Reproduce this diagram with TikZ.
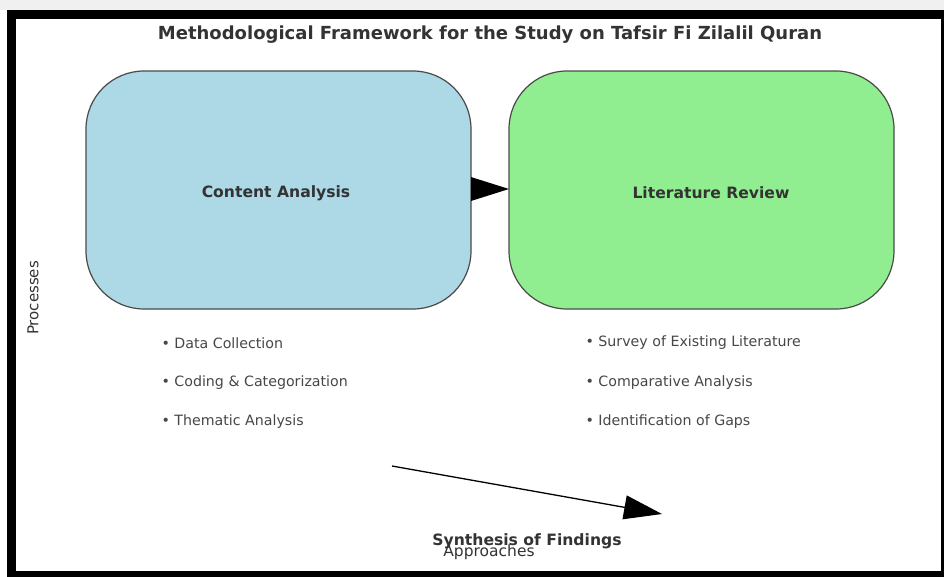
\documentclass[tikz,border=0pt]{standalone}
\usepackage{fontspec}
\setmainfont{DejaVu Sans}
\usetikzlibrary{arrows.meta}
\definecolor{lblue}{HTML}{ADD8E6}
\definecolor{lgreen}{HTML}{90EE90}
\definecolor{txt}{HTML}{333333}
\definecolor{edge}{HTML}{4A4A4A}
\begin{document}
\begin{tikzpicture}[x=1pt,y=-1pt,
  box/.style={draw=edge,line width=1.2pt,rounded corners=58pt},
  boxtitle/.style={font=\bfseries\fontsize{15.6}{18}\selectfont,text=txt},
  bullet/.style={anchor=west,font=\fontsize{14.2}{16}\selectfont,text=txt!90},
  bighead/.style={-{Triangle[length=38pt,width=24pt]}}]
\useasboundingbox (0,0) rectangle (944,576);
\fill[white] (0,0) rectangle (944,576);
\fill[black!6] (0,0) rectangle (944,10);
\draw[line width=8.5pt] (11.25,14.25) rectangle (945.5,575.5);
\node[font=\bfseries\fontsize{18}{21}\selectfont,text=txt] (title) at (490,35) {Methodological Framework for the Study on Tafsir Fi Zilalil Quran};
\filldraw[box,fill=lblue] (86,71) rectangle (471,309);
\filldraw[box,fill=lgreen] (509,71) rectangle (894,309);
\node[boxtitle] (ca) at (276,193) {Content Analysis};
\node[boxtitle] (lr) at (711,193) {Literature Review};
\coordinate (caR) at (471,189);
\coordinate (lrL) at (509,189);
\draw[bighead,line width=0pt] (caR) -- (lrL);
\node[bullet] (b1) at (158,343) {• Data Collection};
\node[bullet] (b2) at (158,383) {• Coding \& Categorization};
\node[bullet] (b3) at (158,422) {• Thematic Analysis};
\node[bullet] (b4) at (582,343) {• Survey of Existing Literature};
\node[bullet] (b5) at (582,383) {• Comparative Analysis};
\node[bullet] (b6) at (582,422) {• Identification of Gaps};
\coordinate (s1) at (392,466);
\coordinate (s2) at (662,514);
\draw[bighead,line width=1.3pt] (s1) -- (s2);
\node[font=\fontsize{15.5}{18}\selectfont,text=txt] (ap) at (489,552) {Approaches};
\node[font=\bfseries\fontsize{15.6}{18}\selectfont,text=txt] (syn) at (527,541) {Synthesis of Findings};
\node[rotate=90,font=\fontsize{15}{18}\selectfont,text=txt] (proc) at (33,298) {Processes};
\end{tikzpicture}
\end{document}
